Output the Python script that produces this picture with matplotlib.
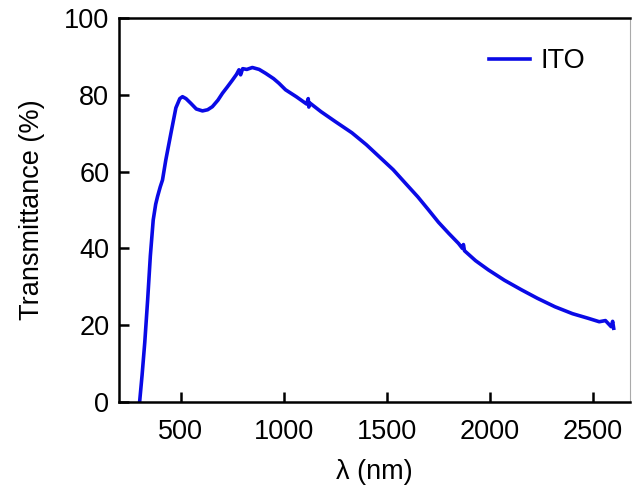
import matplotlib.pyplot as plt

# ITO transmittance spectrum
wavelength = [300, 312, 325, 339, 352, 366, 378, 387, 400, 411, 427, 452, 476, 495, 508,
              525, 548, 575, 605, 630, 653, 680, 702, 725, 750, 770, 782, 790, 800, 820,
              847, 880, 911, 950, 976, 1008, 1060, 1110, 1118, 1121, 1125, 1180, 1250,
              1330, 1400, 1460, 1530, 1589, 1650, 1702, 1750, 1800, 1847, 1866, 1871,
              1876, 1930, 1992, 2070, 2153, 2230, 2315, 2400, 2476, 2530, 2560, 2588,
              2595, 2600]
transmittance = [0.0, 7.0, 15.5, 26.6, 38.0, 47.4, 51.5, 53.5, 56.0, 57.8, 63.0, 70.0,
                 76.6, 79.0, 79.5, 79.0, 77.8, 76.3, 75.8, 76.1, 76.9, 78.6, 80.4, 82.0,
                 83.8, 85.3, 86.5, 85.2, 86.8, 86.6, 87.1, 86.6, 85.6, 84.2, 83.0, 81.3,
                 79.5, 77.6, 79.0, 76.8, 77.9, 75.6, 73.0, 70.1, 67.0, 64.0, 60.5, 57.0,
                 53.4, 50.0, 46.8, 43.9, 41.3, 40.0, 41.0, 39.4, 36.8, 34.4, 31.7, 29.2,
                 27.0, 24.8, 23.0, 21.8, 20.9, 21.2, 19.6, 21.0, 19.2]

xticks = [500, 1000, 1500, 2000, 2500]
yticks = [0, 20, 40, 60, 80, 100]

plt.rcParams['font.family'] = ['Liberation Sans', 'DejaVu Sans']

fig = plt.figure(figsize=(6.35, 4.95), dpi=100)
ax = fig.add_axes([0.1874, 0.1879, 0.805, 0.7758])

ax.plot(wavelength, transmittance, color='#0a0ae6', lw=2.6, label='ITO')

ax.set_xlim(200, 2680)
ax.set_ylim(0, 100)
ax.set_xticks(xticks)
ax.set_yticks(yticks)
ax.tick_params(direction='in', length=7, width=1.8, labelsize=19.5)
ax.tick_params(axis='x', pad=12)
ax.tick_params(axis='y', pad=7)

for side in ['left', 'bottom', 'top']:
    ax.spines[side].set_linewidth(1.8)
ax.spines['right'].set_linewidth(0.8)
ax.spines['right'].set_color('#aaaaaa')

ax.set_xlabel('λ (nm)', fontsize=19.5, labelpad=10)
ax.set_ylabel('Transmittance (%)', fontsize=19.5, labelpad=14)

ax.legend(loc='upper right', frameon=False, fontsize=19.5, handlelength=1.5,
          handletextpad=0.4, bbox_to_anchor=(0.96, 0.985))

fig.savefig('out.png', dpi=100)
